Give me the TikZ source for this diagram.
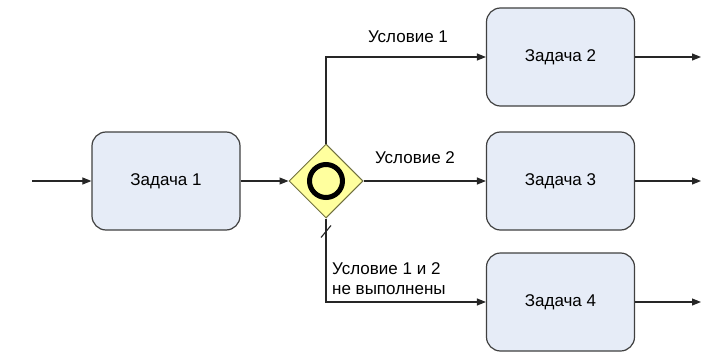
\documentclass[tikz,border=0pt]{standalone}
\usepackage{fontspec}
\setmainfont{Liberation Sans}
\usetikzlibrary{arrows.meta,shapes.geometric}
\definecolor{taskfill}{HTML}{E6ECF7}
\definecolor{taskline}{HTML}{404040}
\definecolor{gatefill}{HTML}{FFFF9E}
\definecolor{gateline}{HTML}{707040}
\tikzset{
  task/.style={draw=taskline, line width=1.2pt, fill=taskfill, rounded corners=14pt,
    minimum width=148pt, minimum height=98pt, font=\fontsize{17}{20}\selectfont, inner sep=0pt},
  gate/.style={draw=gateline, line width=1pt, fill=gatefill, diamond, minimum width=74pt,
    minimum height=74pt, inner sep=0pt},
  flow/.style={line width=1.1pt, draw=black!85, -{Triangle[length=9pt,width=7pt]}},
  lbl/.style={font=\fontsize{17}{20}\selectfont, inner sep=0pt}
}
\begin{document}
\begin{tikzpicture}[x=1pt,y=-1pt]
\useasboundingbox (0,0) rectangle (701,353);
\node[task] (t1) at (166,181) {Задача 1};
\node[gate] (g) at (326,181) {};
\draw[line width=5pt] (g.center) circle (16.5pt);
\node[task] (t2) at (560.5,57) {Задача 2};
\node[task] (t3) at (560.5,181) {Задача 3};
\node[task] (t4) at (560.5,302) {Задача 4};
\coordinate (in) at (32,181);
\coordinate (o2) at (701,57);
\coordinate (o3) at (701,181);
\coordinate (o4) at (701,302);
\draw[flow] (in) -- (t1.west);
\draw[flow] (t1.east) -- (g.west);
\draw[flow] (g.north) |- (t2.west);
\draw[flow] (g.east) -- (t3.west);
\draw[flow] (g.south) |- (t4.west);
% default-flow slash on the lower branch
\draw[line width=1.1pt, draw=black!85] ([xshift=-5pt,yshift=-19pt]g.south) -- ([xshift=5pt,yshift=-7pt]g.south);
\draw[flow] (t2.east) -- (o2);
\draw[flow] (t3.east) -- (o3);
\draw[flow] (t4.east) -- (o4);
\node[lbl] (c1) at (408,37) {Условие 1};
\node[lbl] (c2) at (415,158) {Условие 2};
\node[lbl, anchor=west, align=left] (c3) at (332,279) {Условие 1 и 2\\не выполнены};
\end{tikzpicture}
\end{document}
